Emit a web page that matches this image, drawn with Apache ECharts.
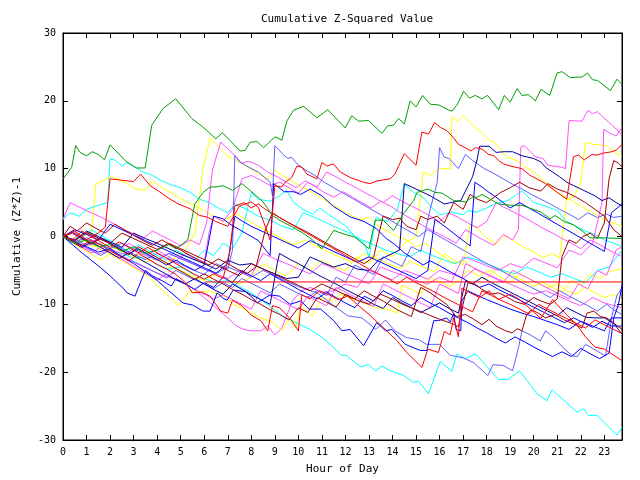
<!DOCTYPE html>
<html><head><meta charset="utf-8">
<script src="https://cdn.jsdelivr.net/npm/echarts@6/dist/echarts.min.js"></script>
<style>html,body{margin:0;padding:0;background:#fff}#c{width:640px;height:480px}</style>
</head><body><div id="c"></div>
<script>
const xTicks = [0,1,2,3,4,5,6,7,8,9,10,11,12,13,14,15,16,17,18,19,20,21,22,23];
const yTicks = [-30,-20,-10,0,10,20,30];

const greenTop = [[0,8.5],[0.37,10.2],[0.54,13.4],[0.72,12.4],[1.0,11.9],[1.25,12.5],[1.54,12.0],[1.76,11.3],[2.0,13.5],[2.2,12.8],[2.67,11.1],[3.1,10.1],[3.49,10.1],[3.77,16.4],[4.26,18.9],[4.79,20.3],[5.47,17.4],[5.96,16.1],[6.49,14.4],[6.77,15.3],[7.53,12.6],[7.74,12.7],[7.95,13.9],[8.24,14.0],[8.52,13.1],[9.01,14.7],[9.3,14.2],[9.51,17.0],[9.79,18.6],[10.22,19.2],[10.79,17.5],[11.25,18.7],[11.99,16.0],[12.27,17.8],[12.56,17.0],[12.98,17.1],[13.55,15.2],[13.79,16.3],[14.04,16.4],[14.26,17.4],[14.5,16.6],[14.75,20.0],[15.0,19.1],[15.28,20.8],[15.6,19.5],[15.96,19.4],[16.41,18.6],[16.53,18.5],[16.76,19.5],[17.02,21.4],[17.27,20.4],[17.52,20.8],[17.8,20.3],[18.04,20.8],[18.51,18.7],[18.75,20.8],[19.0,19.8],[19.29,21.8],[19.5,20.8],[19.78,20.9],[20.07,20.0],[20.31,21.7],[20.68,20.8],[20.99,24.1],[21.2,24.3],[21.56,23.4],[21.84,23.5],[22.05,23.5],[22.29,24.1],[22.5,23.1],[22.72,23.0],[23.26,21.5],[23.54,23.2],[23.75,22.4]];
const green2 = [[0,0],[0.5,-1],[1,-0.5],[1.5,-1.5],[2,-1.2],[2.5,-2.2],[3,-1.5],[3.5,-2.5],[4,-2],[4.5,-1.2],[4.8,-1.8],[5.3,-0.5],[5.6,4.8],[5.95,6.5],[6.25,7.3],[6.5,7.3],[6.8,7.5],[7.2,6.8],[7.6,7.8],[7.95,6.8],[8.5,5.1],[8.9,3.1],[9.3,2.2],[9.7,1.5],[10.2,0.5],[10.6,-0.5],[11,-1.8],[11.5,0.9],[11.9,0.4],[12.4,-0.1],[13,-1.8],[13.26,2.4],[13.6,2.4],[14.05,0.9],[14.47,3.4],[14.9,5.3],[15.04,6.5],[15.5,7.0],[15.8,6.5],[16.1,6.4],[16.6,5.3],[17.1,5.1],[17.4,5.8],[17.6,5.8],[17.8,6.2],[18.1,5.6],[18.5,4.8],[19,4.6],[19.5,4.6],[19.9,4.1],[20.3,3.6],[20.7,2.6],[20.9,3.1],[21.3,2.2],[21.7,1.7],[22.1,0.7],[22.4,-0.2],[22.9,-0.2],[23.75,-0.3]];
const cyanLow = [[0,0],[0.5,-0.5],[1,-1.2],[1.5,-1],[2,-2],[2.5,-2.5],[3,-3.2],[3.5,-3],[4,-4.2],[4.5,-4.8],[5,-4.5],[5.5,-5.5],[6,-6.2],[6.5,-6.8],[7,-6.5],[7.5,-7.4],[8,-8.3],[8.52,-9.6],[9.37,-11.8],[10.08,-13.0],[10.5,-13.7],[10.93,-14.7],[11.42,-16.1],[11.78,-17.4],[12.06,-17.6],[12.63,-19.2],[12.98,-18.9],[13.27,-19.8],[13.55,-19.1],[13.9,-19.8],[14.47,-20.5],[14.89,-21.5],[15.1,-21.3],[15.53,-23.2],[16.03,-18.4],[16.52,-19.9],[16.74,-17.3],[17.09,-18.0],[17.52,-17.3],[18.51,-21.1],[18.93,-21.0],[19.4,-19.8],[20.14,-23.2],[20.56,-24.2],[20.78,-22.6],[21.84,-25.9],[22.12,-25.4],[22.33,-26.4],[22.69,-26.4],[23.54,-29.3],[23.75,-28.1]];
const cyan2 = [[0,2.5],[0.3,3.5],[0.7,3],[1.0,4],[1.4,4.5],[1.9,5],[2.0,11.4],[2.2,11.3],[2.5,10.4],[2.7,10.9],[3.0,10.4],[3.4,9.5],[3.8,9],[4.2,8.2],[4.6,7.6],[5.0,7.2],[5.4,6.5],[5.8,5.5],[6.2,5],[6.6,4.2],[7.0,3.5],[7.3,4.8],[7.8,4],[8.3,3],[8.8,2.4],[9.3,1.5],[9.8,1],[10.2,3.5],[10.7,2.8],[11.2,2.0],[11.7,1.2],[12.2,0.5],[12.7,-0.5],[13.2,-1.2],[13.7,-2],[14.2,-2.5],[14.7,-3],[15.2,-2],[15.7,-2.8],[16.2,-3.5],[16.7,-4],[17.2,-3],[17.7,-3.6],[18.2,-4.3],[18.7,-5],[19.2,-5.5],[19.7,-4.5],[20.2,-5.2],[20.7,-6],[21.2,-5.5],[21.7,-6.2],[22.2,-6.8],[22.7,-5],[23.2,-4.5],[23.75,-2]];
const cyan3 = [[0,0],[0.4,-1],[0.8,-0.3],[1.2,1],[1.6,0.2],[2,-0.6],[2.4,-1.4],[2.8,-2.2],[3.2,-1.2],[3.6,-2],[4,-2.8],[4.4,-3.5],[4.8,-2],[5.2,-2.8],[5.6,-3.5],[6,-2],[6.4,-2.8],[6.8,-1],[7.2,-1.8],[7.6,0.5],[8,6.5],[8.3,5.5],[8.8,5.2],[9.2,6],[9.5,6.8],[9.8,5],[10.2,4],[10.6,3.3],[10.9,4.2],[11.3,3.2],[11.6,2.5],[12,1.6],[12.4,0],[12.8,-1],[13,-3],[13.3,2.8],[13.8,2.2],[14.2,4],[14.5,7.7],[14.9,6.5],[15.3,5.8],[15.6,4.5],[16,3.2],[16.5,3.6],[17,3.2],[17.2,3.8],[17.6,3.6],[18,4.2],[18.4,4.9],[18.9,5.3],[19.5,6.7],[20,5],[20.5,4.5],[21,3.8],[21.4,2.2],[21.8,1.5],[22.2,0.8],[22.6,0.3],[23,-0.5],[23.4,-1],[23.75,-1.5]];
const redPeak = [[0,0],[0.5,0.8],[1,-0.5],[1.5,0.5],[1.8,1.4],[2.0,8.5],[2.5,8.3],[3,8.1],[3.3,9.2],[3.7,7.5],[4.1,6.6],[4.5,5.6],[4.9,4.8],[5.4,4.1],[5.8,3.1],[6.1,2.9],[6.5,2.2],[7,1.5],[7.5,4.5],[8,5.1],[8.3,4.3],[8.8,-0.5],[9.0,7.5],[9.3,7.3],[9.44,8.0],[9.72,8.7],[9.94,10.4],[10.15,10.2],[10.36,9.2],[10.79,8.5],[11.0,10.9],[11.21,10.4],[11.49,10.7],[11.78,9.5],[12.2,8.7],[12.77,8.0],[13.05,7.8],[13.34,8.2],[13.9,8.5],[14.1,9.2],[14.26,10.4],[14.5,12.2],[15.0,10.5],[15.25,15.4],[15.53,15.1],[15.79,16.8],[16.03,16.1],[16.31,15.6],[16.53,14.8],[16.8,13.6],[17.09,13.1],[17.33,12.6],[17.52,13.1],[17.8,12.9],[18.08,12.1],[18.32,11.9],[18.51,11.2],[18.72,10.7],[19.0,10.4],[19.5,10],[19.85,9],[20.5,7.8],[21.0,6.5],[21.4,5.5],[21.69,11.75],[21.9,12.0],[22.15,11.3],[22.48,12.1],[22.69,12.0],[22.97,12.3],[23.33,12.5],[23.54,12.8],[23.75,13.6]];
const redLevel = [[6.04,-6.7],[23.75,-6.7]];
const redLow = [[0,0],[0.4,-0.7],[0.8,-1.4],[1.2,-0.5],[1.6,-1.3],[2,-2.1],[2.4,-2.9],[2.8,-3.6],[3.2,-2.5],[3.6,-3.3],[4,-4.1],[4.4,-4.8],[4.8,-5.6],[5.2,-6.8],[5.5,-8.3],[5.9,-8.2],[6.25,-8.8],[6.7,-11],[7,-11.3],[7.2,-9.4],[7.6,-10.2],[8,-11.6],[8.4,-12.4],[8.7,-13.9],[8.9,-10.2],[9.2,-10.5],[9.7,-12.3],[10,-13.9],[10.15,-8.6],[10.5,-9.2],[10.9,-8],[11.3,-8.6],[11.7,-9.3],[12.1,-8.8],[12.6,-10.3],[13,-11.5],[13.6,-13.4],[14.2,-15.4],[14.6,-17.1],[15.25,-19.3],[15.5,-16.6],[15.95,-17.1],[16.2,-14.0],[16.45,-14.5],[16.6,-12],[16.8,-14.8],[16.95,-7.6],[17.3,-8.3],[17.7,-9],[18.1,-8],[18.5,-9.3],[19,-8.5],[19.4,-9.3],[19.8,-10.5],[20.3,-12.1],[20.8,-9.3],[21.3,-11.2],[21.8,-12.9],[22.2,-14.8],[22.6,-16.3],[23,-16.6],[23.75,-18.3]];
const redMid = [[0,0],[0.4,-0.5],[0.8,0.8],[1.2,0],[1.6,-0.8],[2,-1.6],[2.4,-0.8],[2.8,-1.6],[3.2,-2.4],[3.6,-1.6],[4,-2.4],[4.4,-3.2],[4.8,-4],[5.2,-4.8],[5.6,-5.6],[6,-6.3],[6.4,-5.5],[6.8,-6.2],[7.1,-2],[7.3,4.5],[7.7,5],[8,4.2],[8.3,4.8],[8.6,4],[9,3.2],[9.4,2.4],[9.8,1.6],[10.2,0.8],[10.6,0],[11,-0.8],[11.4,-1.6],[11.8,-2.4],[12.2,-3.2],[12.6,-4],[13,-4.8],[13.4,-5.5],[13.8,-6.2],[14.2,-7],[14.6,-6],[15,-6.8],[15.4,-7.5],[15.8,-8.2],[16.2,-9],[16.6,-9.7],[17,-10.4],[17.4,-11.1],[17.8,-8],[18.2,-8.7],[18.6,-9.4],[19,-10],[19.4,-10.7],[19.8,-11.4],[20.2,-10],[20.6,-10.7],[21,-11.4],[21.4,-12.1],[21.8,-12.8],[22.2,-13.5],[22.6,-12.3],[23,-13],[23.4,-13.7],[23.75,-14.3]];
const yellowHigh = [[0,0],[0.5,-1],[1,-0.5],[1.5,-1.8],[2,-2.5],[2.5,-2],[3,-3],[3.5,-3.8],[4,-3.2],[4.5,-4.5],[5,-5],[5.5,-5.8],[6,-6.5],[6.5,-5.5],[7,-6.3],[7.5,-7],[8,-6],[8.5,-4],[9,-5],[9.5,-5.8],[10,-4],[10.5,-5],[11,-3.5],[11.5,-4.5],[12,-5],[12.5,-3],[13,-4],[13.5,-2],[14,-3],[14.5,-1],[15,0],[15.3,9.5],[15.6,9],[16,10],[16.45,10],[16.53,17.7],[16.76,16.9],[17.02,17.8],[17.37,16.5],[17.85,15.1],[18.12,14.1],[18.34,13.9],[18.63,12.6],[18.85,11.7],[19.29,11.2],[19.57,10.4],[20,9.5],[20.5,8],[21,6.5],[21.5,5.5],[22,4.5],[22.5,3.5],[23,2.5],[23.75,1.5]];
const yellowEarly = [[0,0],[0.4,-0.8],[0.8,-0.3],[1.2,-1.5],[1.6,-1],[2,-2],[2.4,-1.5],[2.8,-2.5],[3.2,-3],[3.6,-2.2],[4,-3.5],[4.4,-4],[4.8,-3],[5.2,-2],[5.6,0.5],[5.95,10],[6.25,14.6],[6.5,13.6],[6.9,12.1],[7.2,11.4],[7.5,10.9],[7.9,10.1],[8.3,9.3],[8.7,8.5],[9.0,9.8],[9.4,8.8],[9.8,8],[10.2,7.2],[10.6,6.5],[11,5.6],[11.4,4.8],[11.8,4],[12.2,3.2],[12.6,2.5],[13,2.8],[13.4,1.5],[13.8,0.8],[14.2,0],[14.6,-0.5],[15,-1.5],[15.4,-1],[15.8,-2],[16.2,-3],[16.6,-4],[17,-3.5],[17.4,-4.5],[17.8,-5.5],[18.2,-5],[18.6,-6],[19,-6.8],[19.4,-5.5],[19.8,-6.2],[20.2,-7],[20.6,-7.5],[21,-7],[21.4,-8],[21.8,-8.5],[22.2,-7.5],[22.6,-8.3],[23,-9],[23.4,-8.5],[23.75,-9.5]];
const yellowLate = [[0,0],[0.4,0.8],[0.8,0.2],[1.2,0.5],[1.4,7.8],[1.7,8.2],[2.0,8.8],[2.3,8.5],[2.7,7.8],[3.1,7.0],[3.5,6.8],[3.8,8.2],[4.3,7],[4.8,6],[5.3,5],[5.8,4.2],[6.3,3.2],[6.8,2.2],[7.3,3.4],[7.8,2.5],[8.3,1.5],[8.8,0.6],[9.3,-0.3],[9.8,-1.2],[10.3,-0.5],[10.8,-1.5],[11.3,-2.3],[11.8,-3.1],[12.3,-3.8],[12.8,-2.5],[13.3,-3.2],[13.8,-4],[14.3,-4.7],[14.8,-3.7],[15.3,-4.5],[15.8,-5.2],[16.2,-2.5],[16.6,-3.5],[17,-4.2],[17.3,1.8],[17.6,1.2],[18,-0.2],[18.4,-1.2],[18.8,0.2],[19.2,-0.8],[19.6,-1.6],[20,-2.3],[20.4,-3.1],[20.8,-2.5],[21.1,-3.2],[21.4,5.5],[21.7,5.8],[22,8],[22.2,13.9],[22.5,13.6],[22.8,13.5],[23.1,13.4],[23.4,12.5],[23.75,11.8]];
const yellowLow = [[0,0],[0.4,-1],[0.8,-1.8],[1.2,-2.6],[1.6,-3.4],[2,-2.6],[2.4,-3.4],[2.8,-4.2],[3.2,-5],[3.6,-5.8],[4.1,-7.6],[4.5,-8.8],[4.9,-10.2],[5.4,-8],[5.8,-8.2],[6.2,-8],[6.7,-8.6],[7,-9],[7.2,-10],[7.6,-10.5],[8,-11.3],[8.4,-12],[8.9,-12.6],[9.3,-13.9],[9.6,-12.2],[9.9,-13.5],[10.1,-10],[10.6,-11.8],[11.0,-8.9],[11.4,-9.5],[11.8,-8.5],[12.3,-9.2],[12.8,-9.8],[13.3,-10.5],[13.8,-10.7],[14.2,-11.3],[14.4,-7.2],[14.8,-7.8],[15.2,-8.5],[15.6,-6],[16,-6.7],[16.4,-7.4],[16.8,-6.5],[17.2,-5],[17.6,-5.7],[18,-6.4],[18.4,-4.5],[18.8,-5.2],[19.2,-5.9],[19.6,-6.6],[20,-7.3],[20.4,-6.8],[20.8,-7.5],[21.2,-8.2],[21.6,-6.5],[22,-7.2],[22.4,-5.5],[22.8,-6.2],[23.2,-5.2],[23.75,-4.7]];
const magentaA = [[0,2.5],[0.3,5],[0.6,4.5],[1,3.8],[1.4,3.2],[1.8,2.5],[2.2,1.8],[2.6,1],[3,0.4],[3.4,-0.3],[3.8,0.8],[4.2,0.1],[4.6,-0.6],[5,-1.4],[5.4,-0.5],[5.8,-1.2],[6.1,2],[6.35,9.8],[6.7,13.9],[7.2,12.3],[7.6,10.8],[7.9,11.1],[8.3,10.5],[8.7,9.5],[9.1,8.8],[9.5,8],[9.9,7.2],[10.3,8.2],[10.7,7.4],[11.1,6.5],[11.5,5.8],[11.9,6.6],[12.3,5.8],[12.7,5],[13.1,4.2],[13.5,5.2],[13.9,4.5],[14.3,3.6],[14.7,2.8],[15.1,2],[15.5,1.2],[15.9,0.5],[16.3,-0.2],[16.7,-1],[17.1,1],[17.5,0.2],[17.9,-0.6],[18.3,-1.3],[18.7,0.3],[19.1,-0.5],[19.35,1],[19.45,13.2],[19.6,13.4],[19.85,12.5],[20.1,11.7],[20.4,11.5],[20.6,10.5],[21.2,10.2],[21.35,10],[21.5,17.1],[22.05,17],[22.3,18.6],[22.5,18.1],[22.7,18.4],[22.95,17.6],[23.3,16.5],[23.75,15]];
const magentaB = [[0,0],[0.5,-0.5],[1,-1.3],[1.5,-1],[2,-1.8],[2.5,-2.6],[3,-2],[3.5,-2.8],[4,-3.5],[4.5,-2.5],[5,-3.2],[5.5,-4],[6,-4.8],[6.5,-5.5],[7,-6.2],[7.5,-5],[8,-5.8],[8.5,-2.5],[9,-3.3],[9.5,-4],[10,-4.8],[10.5,-5.5],[11,-4],[11.5,-4.7],[12,-5.5],[12.5,-6.2],[13,-7],[13.5,-4.5],[14,-5.2],[14.5,-5.8],[15,-6.5],[15.5,-7],[16,-6],[16.5,-6.7],[17,-3],[17.5,-3.6],[18,-4.3],[18.5,-5],[19,-4],[19.5,-4.6],[20,-3.2],[20.5,-3.9],[21,-4.6],[21.5,-2],[22,-2.7],[22.5,-1],[22.9,5],[22.97,15.8],[23.2,15.3],[23.5,14.8],[23.75,16.1]];
const magentaC = [[0,0],[0.5,-1],[1,-1.8],[1.5,-2.6],[2,-2],[2.5,-3],[3,-3.8],[3.5,-4.6],[4,-5.4],[4.5,-6],[5,-6.6],[5.5,-7.6],[6,-9],[6.5,-10.5],[7,-12],[7.3,-13],[7.6,-13.6],[7.95,-13.9],[8.4,-13.9],[8.7,-13.2],[9,-14.5],[9.3,-13.5],[9.5,-11.7],[9.75,-9.5],[10.1,-8.1],[10.5,-7.5],[11,-8.2],[11.5,-8],[12,-7],[12.5,-7.5],[13,-5],[13.5,-5.7],[14,-6.4],[14.5,-5],[15,-5.6],[15.5,-6.3],[16,-5],[16.5,-5.5],[17,-6.2],[17.5,-4.8],[18,-5.5],[18.5,-6.3],[19,-7],[19.5,-7.8],[20,-8.5],[20.5,-8],[21,-8.7],[21.5,-9.5],[22,-10.2],[22.5,-9],[23,-9.8],[23.75,-10.5]];
const magentaD = [[0,0],[0.4,-0.8],[0.8,-1.6],[1.2,-2.4],[1.6,-1.6],[2,-2.4],[2.4,-3.2],[2.8,-4],[3.2,-4.8],[3.6,-5.6],[4,-6.4],[4.4,-5.5],[4.8,-6.3],[5.2,-7],[5.6,-7.8],[6,-8.5],[6.4,-9.2],[6.8,-8.6],[7.2,-9.3],[7.6,-10],[8,-10.7],[8.4,-8],[8.8,-8.7],[9.2,-9.4],[9.6,-10.1],[10,-10.8],[10.4,-8.8],[10.8,-9.5],[11.2,-10.2],[11.6,-7.5],[12,-8.2],[12.4,-8.9],[12.8,-9.6],[13.2,-10.3],[13.6,-7],[14,-7.7],[14.4,-8.4],[14.8,-9.1],[15.2,-9.8],[15.6,-10.5],[16,-7],[16.4,-7.7],[16.8,-8.4],[17.1,-4],[17.5,-4.7],[17.9,-5.4],[18.3,-6.1],[18.7,-6.8],[19.1,-5],[19.5,-5.7],[19.9,-6.4],[20.3,-7.1],[20.7,-7.8],[21.1,-8.5],[21.5,-9.2],[21.9,-7],[22.3,-7.7],[22.7,-5],[23.1,-5.7],[23.5,-2],[23.75,-1.5]];
const magentaE = [[0,0],[0.4,0.8],[0.8,0],[1.2,-0.8],[1.6,-0.2],[2,-1],[2.4,-1.8],[2.8,-1],[3.2,-1.8],[3.6,-2.6],[4,-2],[4.4,-2.8],[4.8,-3.6],[5.2,-2.5],[5.6,-3.3],[6,-4],[6.2,0.5],[6.4,3],[6.8,2.2],[7.2,4],[7.6,8.5],[8,9],[8.4,8.3],[8.8,7.5],[9.2,8],[9.6,7.2],[10,6.4],[10.4,8],[10.8,7.3],[11.2,9.5],[11.6,8.8],[12,8],[12.4,7.3],[12.8,6.5],[13.2,5.8],[13.6,5],[14,6],[14.4,5.2],[14.8,4.5],[15.2,3.8],[15.6,3],[16,2.2],[16.4,3.5],[16.8,2.8],[17.2,2],[17.6,1.3],[18,2.2],[18.4,5],[18.8,4.2],[19.2,3.5],[19.6,2.8],[20,2],[20.4,1.2],[20.8,0.5],[21.2,-0.3],[21.6,-1],[22,-1.8],[22.4,-0.5],[22.8,-1.2],[23.2,-2],[23.75,-3]];
const blueLow = [[0,0],[0.5,-0.8],[1,-1.5],[1.5,-2.3],[2,-1.8],[2.5,-3],[3,-4],[3.5,-5.2],[4,-6.5],[4.5,-8],[5.1,-9.8],[5.5,-10.1],[5.95,-11],[6.25,-11],[6.55,-8.3],[6.8,-9.1],[6.97,-9.4],[7.23,-7.9],[7.74,-8.1],[8.08,-9.1],[8.24,-9.8],[8.8,-8.6],[9.2,-8.8],[9.65,-10],[10.1,-9.5],[10.45,-10.7],[10.95,-10.7],[11.5,-12.4],[11.85,-13.9],[12.2,-13.7],[12.77,-16.1],[13.33,-12.7],[13.7,-13.9],[13.97,-13.7],[14.54,-15.9],[15.18,-16.8],[15.46,-16.8],[15.75,-12.4],[15.96,-12.4],[16.3,-12],[16.45,-12.6],[16.6,-11.4],[16.7,-13.7],[16.9,-13.9],[16.95,-9.5],[17.2,-8],[17.5,-8.5],[18,-9.3],[18.5,-10],[19,-10.7],[19.5,-11.3],[20,-11.8],[20.5,-12.4],[21,-13],[21.5,-13.7],[22,-12.5],[22.5,-13.2],[23,-13.9],[23.3,-12],[23.75,-12]];
const blueTall = [[0,0],[0.4,0.6],[0.8,-0.2],[1.2,-1],[1.6,-0.2],[2,-1],[2.4,-1.8],[2.8,-2.6],[3.2,-1.8],[3.6,-2.6],[4,-3.4],[4.4,-4.2],[4.8,-3.5],[5.2,-4.3],[5.6,-5],[6,-4.2],[6.4,3],[6.8,2.6],[7.1,1.8],[7.5,1],[7.9,0.2],[8.3,-0.6],[8.8,-2.8],[8.95,7.8],[9.4,6.6],[9.8,6.6],[10.1,6.2],[10.5,7],[11,6],[11.5,4.4],[12.2,2.9],[12.8,2.2],[13.3,1.2],[13.7,-0.2],[14.1,-1.2],[14.5,-2.4],[14.9,-3.3],[15.3,-4.2],[15.6,-3.6],[16,-4.3],[16.5,-5.3],[16.9,-6],[17.3,-6.8],[17.7,-7.5],[18.1,-7],[18.5,-7.8],[18.9,-8.5],[19.3,-9.2],[19.7,-9.9],[20.1,-10.6],[20.5,-11.3],[20.9,-12],[21.3,-12.7],[21.7,-12],[22.1,-12.7],[22.5,-13.4],[22.9,-12.5],[23.3,-13.2],[23.75,-13.2]];
const blueC = [[0,0],[0.4,-1.2],[0.8,-2.4],[1.2,-3.5],[1.6,-4.6],[2,-5.8],[2.3,-6.8],[2.55,-7.6],[2.72,-8.3],[3.06,-8.8],[3.19,-7.6],[3.5,-5],[3.8,-5.8],[4.2,-6.5],[4.6,-7.3],[4.8,-6.2],[5.2,-7],[5.6,-7.8],[6,-6.8],[6.4,-7.5],[6.8,-6],[7.2,-6.8],[7.6,-5],[8,-5.8],[8.4,-6.5],[8.8,-5.5],[9.2,-6.3],[9.6,-7],[10,-7.8],[10.4,-8.5],[10.8,-9.2],[11.2,-8.2],[11.6,-9],[12,-9.8],[12.4,-10.5],[12.8,-8.8],[13.2,-9.5],[13.6,-8],[14,-8.7],[14.4,-9.5],[14.8,-10.2],[15.2,-9],[15.6,-9.8],[16,-10.5],[16.4,-11.3],[16.8,-12],[17.2,-12.7],[17.6,-13.5],[18,-14.2],[18.4,-15],[18.8,-15.7],[19.2,-14.8],[19.6,-15.5],[20,-16.3],[20.4,-17],[20.8,-17.7],[21.2,-17],[21.6,-17.7],[22,-16.5],[22.4,-17.3],[22.8,-18],[23.2,-17.2],[23.4,-12],[23.6,-10],[23.75,-7.2]];
const blueB = [[0,0],[0.5,1],[1,0.3],[1.5,-0.5],[2,1.8],[2.5,1],[3,0.2],[3.5,-0.6],[4,-1.4],[4.5,-2.2],[5,-3],[5.5,-3.8],[6,-4.6],[6.5,-5.4],[7,-4],[7.3,3],[7.6,2.3],[8,1.5],[8.5,0.7],[9,-0.1],[9.5,-0.9],[10,-1.7],[10.5,-0.6],[11,-1.4],[11.5,-2.2],[12,-3],[12.5,-3.8],[13,-3],[13.5,-3.8],[14,-4.6],[14.5,-5.4],[15,-6.2],[15.5,-5],[15.8,2.5],[16.1,1.8],[16.4,1],[16.7,0.2],[17,-0.6],[17.3,-1.4],[17.5,8],[17.8,7.3],[18.1,6.5],[18.4,5.8],[18.7,5],[19,4.2],[19.4,5],[19.8,4.2],[20.2,3.4],[20.6,2.6],[21,1.8],[21.4,1],[21.8,0.2],[22.2,-0.6],[22.6,-1.4],[23,-2.2],[23.3,3.5],[23.75,4.8]];
const periA = [[0,0],[0.5,-0.6],[1,0.5],[1.5,-0.3],[2,-1],[2.5,-1.8],[3,-2.6],[3.5,-3.4],[4,-2.5],[4.5,-3.3],[5,-4.1],[5.5,-4.9],[6,-5.6],[6.5,-4],[7,-4.8],[7.2,-2],[7.3,11.9],[7.5,11],[7.9,10.2],[8.3,9.5],[8.8,8],[8.9,6],[9.0,13.4],[9.35,12.1],[9.55,11.5],[9.7,11.7],[9.95,10.7],[10.3,9.8],[10.7,9],[11.1,8],[11.5,7.2],[11.9,6.4],[12.3,5.6],[12.7,4.8],[13.1,4],[13.5,3.2],[13.9,2.4],[14.3,1.6],[14.7,0.8],[15.1,0],[15.5,1],[15.9,0.2],[16.3,-0.6],[16.7,-1.4],[17.1,-2.2],[17.5,-3],[17.9,-3.8],[18.3,-4.5],[18.7,-5.2],[19.1,-6],[19.5,-6.8],[19.9,-7.5],[20.3,-8.2],[20.7,-9],[21.1,-8],[21.5,-8.8],[21.9,-9.5],[22.3,-10.2],[22.7,-11],[23.1,-10],[23.4,-10.8],[23.75,-11.5]];
const periB = [[0,0],[0.5,-0.8],[1,-0.2],[1.5,-1],[2,-1.8],[2.5,-1],[3,-1.8],[3.5,-2.6],[4,-3.4],[4.5,-2.5],[5,-3.3],[5.5,-4],[6,-4.8],[6.5,-5.5],[7,-4.5],[7.5,-5.2],[8,-6],[8.5,-5],[9,-5.8],[9.5,-6.6],[10,-7.4],[10.8,-8.3],[11.5,-10.2],[12.1,-11.7],[12.7,-12],[13.3,-13.7],[13.7,-12.3],[14.1,-13.9],[14.6,-14.9],[15.1,-15.2],[15.45,-15.9],[16,-15.9],[16.45,-17.5],[17,-17.9],[17.45,-18.6],[18.05,-20.5],[18.27,-18.9],[18.7,-19],[19.1,-19.8],[19.35,-16.4],[19.5,-13.9],[19.85,-14.5],[20.28,-15.4],[20.5,-13.9],[20.85,-14.9],[21.25,-16.4],[21.65,-17.6],[21.85,-17.7],[22.2,-15.9],[22.55,-16.6],[23.05,-17.6],[23.33,-11.6],[23.54,-8.6],[23.75,-7.6]];
const periC = [[0,0],[0.4,-0.6],[0.8,-1.3],[1.2,-2],[1.6,-2.8],[2,-2],[2.4,-2.7],[2.8,-3.4],[3.2,-4],[3.6,-4.7],[4,-5.4],[4.4,-6.1],[4.8,-5],[5.2,-5.7],[5.6,-6.4],[6,-7],[6.4,-7.7],[6.8,-6.8],[7.2,-7.5],[7.6,-6.2],[8,-6.9],[8.4,-7.6],[8.8,-8.3],[9.2,-7],[9.6,-7.7],[10,-8.4],[10.4,-9],[10.8,-8],[11.2,-8.7],[11.6,-6],[12,-6.7],[12.4,-4.2],[12.8,-4.9],[13.2,-5.6],[13.6,-3],[14,-3.7],[14.4,-4.4],[14.8,-1.5],[15.2,-2.2],[15.6,4],[15.9,8],[16.0,13.1],[16.2,11.7],[16.4,11.5],[16.8,10],[17.1,12.1],[17.4,11.2],[17.9,10],[18.3,9.3],[18.7,8.5],[19.1,7.7],[19.5,7],[19.9,6.2],[20.3,5.5],[20.7,4.8],[21.1,4],[21.5,3.3],[21.9,2.5],[22.3,3.5],[22.7,2.8],[23.1,3.3],[23.4,2.8],[23.75,3]];
const navyA = [[0,0],[0.5,-0.5],[1,0.8],[1.5,0],[2,-0.8],[2.5,-1.6],[3,0.5],[3.5,-0.3],[4,-1],[4.5,-1.8],[5,-2.6],[5.5,-3.3],[6,-4],[6.5,-4.8],[7,-3.5],[7.5,-4.2],[8,-4],[8.5,-4.8],[9,-5.5],[9.5,-6.2],[10,-6],[10.5,-3],[11,-3.8],[11.5,-4.5],[12,-4],[12.5,-4.8],[13,-5],[13.4,-3.5],[14,-2.5],[14.3,-2],[14.5,7.8],[15,7],[15.6,6],[16.2,4.8],[16.9,5.3],[17.4,8.8],[17.6,11.4],[17.7,13.3],[18.1,13.3],[18.4,12.4],[18.75,12.5],[19.1,12.5],[19.5,11.9],[19.75,11.7],[20.0,11.5],[20.3,11.0],[20.5,10.2],[20.8,9.5],[21.1,8.8],[21.4,8],[21.7,7.5],[22,7],[22.3,6.5],[22.6,6],[22.9,5.3],[23.2,5.7],[23.5,5],[23.75,4.5]];
const navyB = [[0,0],[0.4,-0.8],[0.8,-1.6],[1.2,-0.8],[1.6,-1.6],[2,-2.4],[2.4,-3.2],[2.8,-2.4],[3.2,-3.2],[3.6,-4],[4,-4.8],[4.4,-5.6],[4.8,-6.4],[5.2,-7],[5.6,-6.2],[6,-7],[6.4,-7.8],[6.8,-8.5],[7.2,-7],[7.6,-7.8],[8,-8.6],[8.4,-9.3],[8.8,-10],[9.1,-4],[9.2,-2.5],[9.6,-3.3],[10,-4],[10.4,-4.8],[10.8,-5.6],[11.2,-6.3],[11.6,-7],[12,-7.8],[12.4,-8.5],[12.8,-9.2],[13.2,-10],[13.6,-10.6],[14,-9],[14.4,-9.8],[14.8,-10.5],[15.2,-11.2],[15.6,-10.5],[16,-9.8],[16.4,-10.6],[16.8,-11.3],[17.1,-6.5],[17.4,-7],[17.8,-6],[18.2,-6.8],[18.6,-7.5],[19,-8.2],[19.4,-8.9],[19.8,-9.6],[20.2,-10.3],[20.6,-11],[21,-11.7],[21.4,-10.5],[21.8,-11.2],[22.2,-11.9],[22.6,-12],[23,-12],[23.4,-12.8],[23.75,-14.4]];
const darkRedA = [[0,0],[0.5,-0.6],[1,0.6],[1.5,-0.2],[2,-1],[2.5,0.5],[3,-0.3],[3.5,-1.1],[4,-1.9],[4.5,-1],[5,-1.8],[5.5,-2.6],[6,-3.4],[6.5,-4.2],[7,-5],[7.5,-5.8],[8,-4],[8.5,-4.8],[9,-5.6],[9.5,-6.4],[10,-7.2],[10.5,-8],[11,-7],[11.5,-7.8],[12,-8.6],[12.5,-9.4],[13,-10],[13.5,-8.5],[14,-9.3],[14.5,-10.1],[15,-10.8],[15.5,-11.5],[16,-12.2],[16.5,-12.8],[16.8,-13.3],[17,-10],[17.2,-6.8],[17.5,-7],[17.8,-7.8],[18.2,-8.5],[18.5,-8.3],[18.8,-8.8],[19.2,-9.6],[19.6,-10],[20,-9],[20.3,-9.5],[20.7,-10],[21,-9.2],[21.2,-3],[21.5,-0.5],[21.8,-1],[22.1,0],[22.4,0.5],[22.7,-0.3],[23,2],[23.2,8.5],[23.4,11.2],[23.6,10.8],[23.75,10.2]];
const darkRedB = [[0,0],[0.3,1.5],[0.6,0.8],[1,2],[1.4,1.2],[1.8,0.5],[2.2,1.8],[2.6,1],[3,0.2],[3.4,-0.6],[3.8,-1.3],[4.2,-0.5],[4.6,-1.3],[5,-2],[5.4,-2.8],[5.8,-3.5],[6.2,-4.2],[6.6,-3.3],[7,-4],[7.4,-4.8],[7.8,-5.5],[8.2,-4.5],[8.6,1],[8.9,3.5],[9.2,2.8],[9.6,2],[10,1.3],[10.4,0.6],[10.8,-0.2],[11.2,-1],[11.6,-1.8],[12,-2.5],[12.4,-3.3],[12.8,-4],[13.2,-3],[13.4,0],[13.6,3],[14,2.5],[14.3,2.7],[14.6,1.5],[15,1],[15.2,3],[15.5,2.5],[15.9,3],[16.2,2],[16.6,5],[17,4],[17.3,6.2],[17.6,5.5],[18,5],[18.6,6.5],[19,7.2],[19.4,8],[19.8,7.2],[20.3,6.7],[20.6,7.8],[21,7],[21.4,6.5],[21.8,5.8],[22.2,5],[22.6,4],[23,3],[23.4,1],[23.75,0]];
const darkRedC = [[0,0],[0.4,0.5],[0.8,-0.3],[1.2,-1.1],[1.6,-0.3],[2,-1.1],[2.4,-1.9],[2.8,-2.7],[3.2,-1.5],[3.6,-2.3],[4,-3.1],[4.4,-3.9],[4.8,-4.7],[5.2,-5.5],[5.6,-6.3],[6,-5.5],[6.4,-6.3],[6.8,-7],[7.2,-7.8],[7.6,-8.5],[8,-9.3],[8.4,-10],[8.8,-10.8],[9.2,-11.5],[9.6,-12.3],[10,-10.5],[10.4,-11.2],[10.8,-9],[11.2,-9.7],[11.6,-10.4],[12,-8.5],[12.4,-9.2],[12.8,-8],[13.2,-8.8],[13.6,-9.5],[14.2,-10.8],[14.8,-11.8],[15.2,-7.5],[15.6,-8.3],[16.3,-10],[16.7,-11.8],[17.1,-11.5],[17.45,-12.2],[17.8,-13],[18.1,-12.2],[18.4,-13.2],[18.8,-13.9],[19.08,-14.2],[19.3,-13.6],[19.5,-13.9],[19.7,-11.5],[19.9,-10.8],[20.2,-11.3],[20.5,-12],[20.9,-11.5],[21.3,-12.3],[21.77,-13],[22.05,-13.5],[22.26,-11.3],[22.55,-11],[22.83,-11.8],[23.1,-12],[23.75,-13.7]];

const seriesList = [
  ['#ffff00', yellowEarly], ['#ffff00', yellowLate], ['#ffff00', yellowHigh], ['#ffff00', yellowLow],
  ['#00ffff', cyan2], ['#00ffff', cyan3], ['#00ffff', cyanLow],
  ['#ff50ff', magentaA], ['#ff50ff', magentaB], ['#ff50ff', magentaC], ['#ff50ff', magentaD], ['#ff50ff', magentaE],
  ['#6060ff', periA], ['#6060ff', periB], ['#6060ff', periC],
  ['#0000ff', blueLow], ['#0000ff', blueB], ['#0000ff', blueTall], ['#0000ff', blueC],
  ['#0000a0', navyA], ['#0000a0', navyB],
  ['#a00000', darkRedA], ['#a00000', darkRedB], ['#a00000', darkRedC],
  ['#ff0000', redLow], ['#ff0000', redMid], ['#ff0000', redPeak],
  ['#00a000', green2], ['#00a000', greenTop], ['#ff0000', redLevel]
];

const font = 'DejaVu Sans Mono';
const chart = echarts.init(document.getElementById('c'), null, {renderer:'canvas'});
const axisCommon = {
  type:'value', axisLine:{onZero:false, lineStyle:{color:'#000', width:1}},
  axisTick:{inside:true, length:5, lineStyle:{color:'#000'}}, splitLine:{show:false}
};
chart.setOption({
  animation:false,
  backgroundColor:'#fff',
  title:{text:'Cumulative Z-Squared Value', left:342, top:9, textAlign:'center',
    textStyle:{fontFamily:font, fontSize:11, fontWeight:'normal', color:'#000'}},
  grid:{left:63, right:18, top:33, bottom:37, show:true, borderColor:'#000', borderWidth:1, containLabel:false},
  xAxis:[
    Object.assign({}, axisCommon, {min:0, max:23.75, interval:1, position:'bottom',
      name:'Hour of Day', nameLocation:'middle', nameGap:24,
      nameTextStyle:{fontFamily:font, fontSize:11, color:'#000'},
      axisLabel:{fontFamily:font, fontSize:10, color:'#000', margin:7,
        formatter:v => xTicks.indexOf(v) >= 0 ? String(v) : ''}}),
    Object.assign({}, axisCommon, {min:0, max:23.75, interval:1, position:'top', axisLabel:{show:false}})
  ],
  yAxis:[
    Object.assign({}, axisCommon, {min:-30, max:30, interval:10, position:'left',
      name:'Cumulative (Z*Z)-1', nameLocation:'middle', nameGap:40, nameRotate:90,
      nameTextStyle:{fontFamily:font, fontSize:11, color:'#000'},
      axisLabel:{fontFamily:font, fontSize:10, color:'#000', margin:7,
        formatter:v => yTicks.indexOf(v) >= 0 ? String(v) : ''}}),
    Object.assign({}, axisCommon, {min:-30, max:30, interval:10, position:'right', axisLabel:{show:false}})
  ],
  series: seriesList.map(([col, d]) => ({
    type:'line', data:d, xAxisIndex:0, yAxisIndex:0, symbol:'none', smooth:false,
    lineStyle:{color:col, width:1}, silent:true, clip:true
  }))
});
</script></body></html>
